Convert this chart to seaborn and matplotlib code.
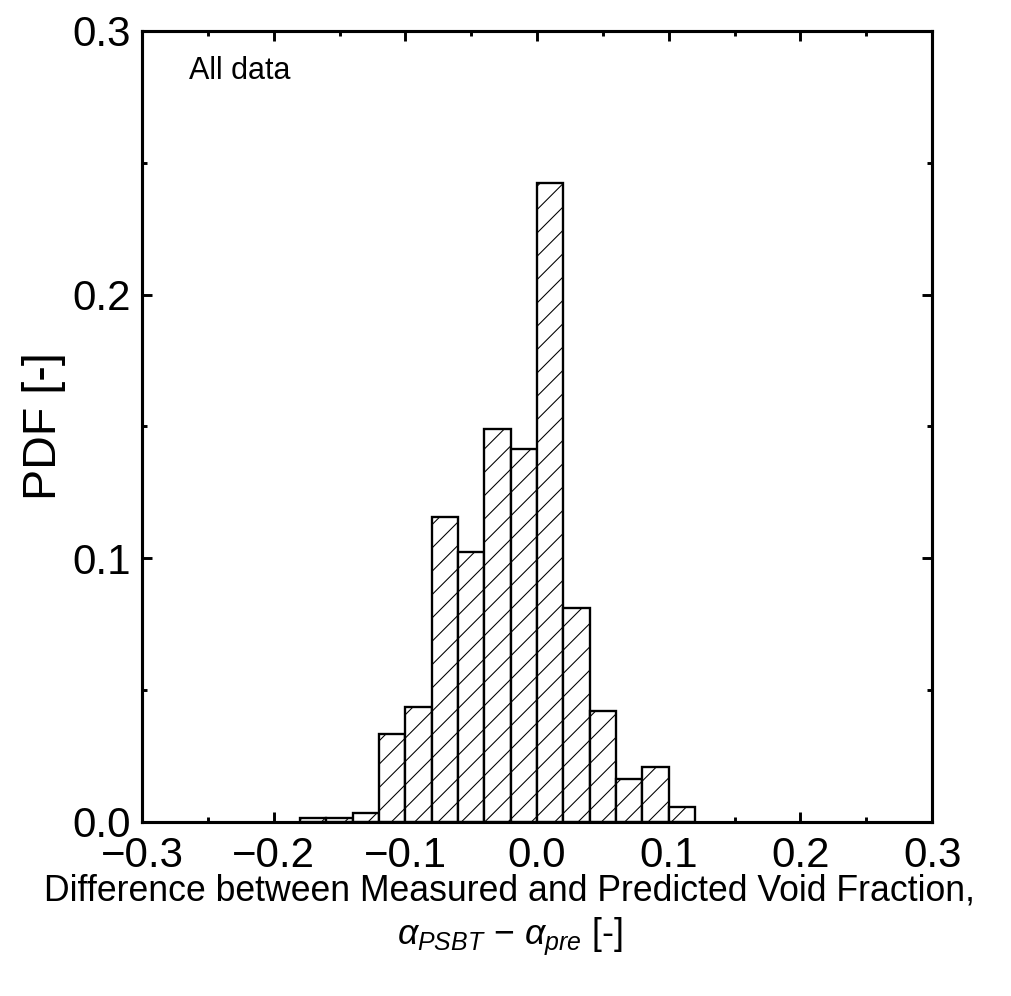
import numpy as np
import pandas as pd
import matplotlib
matplotlib.use("Agg")
import matplotlib.pyplot as plt
from matplotlib.ticker import MultipleLocator, FuncFormatter
import seaborn as sns

# ---- data (probability per bin) ----
bin_edges = [-0.18, -0.16, -0.14, -0.12, -0.10, -0.08, -0.06, -0.04, -0.02,
             0.00, 0.02, 0.04, 0.06, 0.08, 0.10, 0.12]
bin_centers = [-0.17, -0.15, -0.13, -0.11, -0.09, -0.07, -0.05, -0.03, -0.01,
               0.01, 0.03, 0.05, 0.07, 0.09, 0.11]
pdf_values = [0.0015, 0.0015, 0.0033, 0.0333, 0.0437, 0.1158, 0.1023, 0.1489,
              0.1416, 0.2422, 0.0810, 0.0420, 0.0163, 0.0210, 0.0057]
x_ticks = [-0.3, -0.2, -0.1, 0.0, 0.1, 0.2, 0.3]
y_ticks = [0.0, 0.1, 0.2, 0.3]

df = pd.DataFrame({"diff": bin_centers, "pdf": pdf_values})

sns.set_theme(style="ticks")
plt.rcParams['font.family'] = ['Liberation Sans', 'DejaVu Sans']
plt.rcParams['mathtext.fontset'] = 'custom'
plt.rcParams['mathtext.it'] = 'Liberation Sans:italic'
plt.rcParams['mathtext.rm'] = 'Liberation Sans'
plt.rcParams['hatch.linewidth'] = 0.55
plt.rcParams['hatch.color'] = 'black'

DPI = 140
fig = plt.figure(figsize=(1011 / DPI, 996 / DPI), dpi=DPI)
ax = fig.add_axes([0.1405, 0.1747, 0.922 - 0.1405, 0.9689 - 0.1747])

sns.histplot(data=df, x="diff", weights="pdf", bins=bin_edges, stat="count",
             element="bars", fill=True, color="white", edgecolor="black",
             linewidth=1.2, hatch="//", alpha=1.0, ax=ax)

def fmt(v, pos):
    s = "%.1f" % v
    if s == "-0.0":
        s = "0.0"
    return s.replace("-", "\u2212")

ax.set_xlim(-0.3, 0.3)
ax.set_ylim(0.0, 0.3)
ax.set_xticks(x_ticks)
ax.set_yticks(y_ticks)
ax.xaxis.set_minor_locator(MultipleLocator(0.05))
ax.yaxis.set_minor_locator(MultipleLocator(0.05))
ax.xaxis.set_major_formatter(FuncFormatter(fmt))
ax.yaxis.set_major_formatter(FuncFormatter(fmt))

ax.tick_params(which='both', direction='in', top=True, right=True,
               width=1.5, colors='black', labelsize=21.6)
ax.tick_params(which='major', length=5.1)
ax.tick_params(which='minor', length=2.6)
ax.tick_params(axis='x', which='major', pad=7)
ax.tick_params(axis='y', which='major', pad=6)

for s in ax.spines.values():
    s.set_linewidth(1.6)
    s.set_color('black')
    s.set_visible(True)

ax.set_ylabel("PDF [-]", fontsize=24, labelpad=3, color='black')
ax.set_xlabel("")
fig.text(0.5035, 1 - 891 / 996,
         "Difference between Measured and Predicted Void Fraction,",
         ha='center', va='center', fontsize=18.3, color='black')
fig.text(0.5045, 1 - 936 / 996, r"$\alpha_{PSBT}$ − $\alpha_{pre}$ [-]",
         ha='center', va='center', fontsize=18.3, color='black')

ax.text(0.06, 0.95, "All data", transform=ax.transAxes, ha='left', va='center',
        fontsize=15.7, color='black')

fig.savefig("out.png", dpi=DPI, facecolor='white')
